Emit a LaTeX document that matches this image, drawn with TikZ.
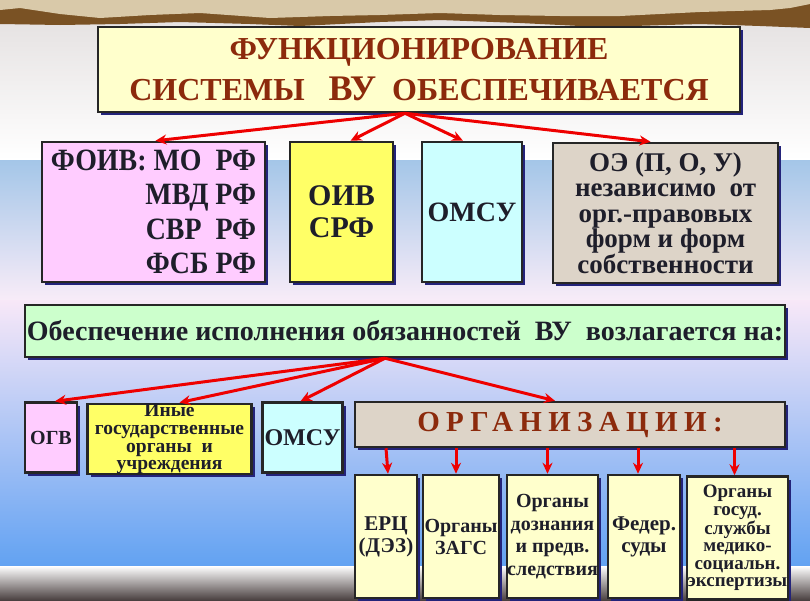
\documentclass[tikz,border=0pt]{standalone}
\usepackage{fontspec}
\setmainfont{Liberation Serif}
\newfontfamily\condserif[FakeStretch=0.9]{Liberation Serif}
\usetikzlibrary{arrows.meta, shadows}

\definecolor{paper}{HTML}{D9C9A9}
\definecolor{paperedge}{HTML}{7A5224}
\definecolor{boxline}{HTML}{262626}
\definecolor{boxshadow}{HTML}{23237A}
\definecolor{ink}{HTML}{1E1E2A}
\definecolor{titlered}{HTML}{8C2A0C}
\definecolor{arrowred}{HTML}{EE0000}
\definecolor{lightyellow}{HTML}{FFFFCC}
\definecolor{pinkbox}{HTML}{FFCCFF}
\definecolor{yellowbox}{HTML}{FFFF66}
\definecolor{cyanbox}{HTML}{CCFFFF}
\definecolor{sandbox}{HTML}{DDD4C8}
\definecolor{greenbox}{HTML}{CCFFCC}

\begin{document}
\begin{tikzpicture}[x=1pt, y=-1pt, >={Stealth[length=11pt,width=10pt]},
  box/.style={draw=boxline, line width=2.5pt, fill=#1, align=center, text=ink,
    inner sep=0pt, font=\bfseries,
    drop shadow={fill=boxshadow, opacity=1, shadow xshift=3pt, shadow yshift=-3pt}},
  arr/.style={->, draw=arrowred, line width=3pt}]
  \useasboundingbox (0,0) rectangle (810,600);
  % background
  \shade[top color={rgb,255:red,226;green,222;blue,222}, bottom color=white] (0,0) rectangle (810,160);
  \shade[top color={rgb,255:red,164;green,198;blue,232}, bottom color={rgb,255:red,248;green,236;blue,248}] (0,160) rectangle (810,300);
  \shade[top color={rgb,255:red,248;green,232;blue,248}, middle color={rgb,255:red,170;green,200;blue,244},
    bottom color={rgb,255:red,98;green,162;blue,242}] (0,300) rectangle (810,566);
  \shade[top color=white, bottom color={rgb,255:red,74;green,64;blue,64}] (0,566) rectangle (810,600);
  % torn paper strip
  \fill[paperedge] (0,0) -- (810,0) -- (810,28) -- (760,26) -- (700,24) -- (600,27) -- (520,23)
    -- (440,20) -- (380,22) -- (300,26) -- (250,24) -- (180,22) -- (120,24) -- (60,25) -- (0,24) -- cycle;
  \fill[paper] (0,0) -- (810,0) -- (810,4) -- (790,8) -- (770,10) -- (700,12) -- (620,16) -- (560,16)
    -- (500,15) -- (440,13) -- (380,15) -- (330,16) -- (270,18) -- (200,13) -- (150,15) -- (100,18)
    -- (60,14) -- (20,8) -- (0,10) -- cycle;

  % title
  \node[box=lightyellow, minimum width=642, minimum height=85, text=titlered,
    font=\bfseries\fontsize{32}{41}\selectfont] (title) at (419,69.5)
    {ФУНКЦИОНИРОВАНИЕ\\СИСТЕМЫ\ \ \ {\fontsize{36}{41}\selectfont ВУ}\ \ ОБЕСПЕЧИВАЕТСЯ};

  % first row
  \node[box=pinkbox, minimum width=223, minimum height=140, align=right,
    font=\condserif\bfseries\fontsize{31}{34.5}\selectfont] (foiv) at (153.5,212)
    {ФОИВ: МО\ \ РФ\\МВД РФ\\СВР\ \ РФ\\ФСБ РФ};
  \node[box=yellowbox, minimum width=103, minimum height=140,
    font=\bfseries\fontsize{30}{32}\selectfont] (oiv) at (341.5,212) {ОИВ\\СРФ};
  \node[box=cyanbox, minimum width=100, minimum height=140,
    font=\bfseries\fontsize{28}{32}\selectfont] (omsu) at (472,212) {ОМСУ};
  \node[box=sandbox, minimum width=225, minimum height=140,
    font=\bfseries\fontsize{27}{25.5}\selectfont] (oe) at (665.5,213)
    {ОЭ (П, О, У)\\независимо\ \ от\\орг.-правовых\\форм и форм\\собственности};

  \draw[arr] ([xshift=-14pt]title.south) -- ([xshift=2pt]foiv.north);
  \draw[arr] ([xshift=-14pt]title.south) -- ([xshift=9pt]oiv.north);
  \draw[arr] ([xshift=-14pt]title.south) -- ([xshift=-9pt]omsu.north);
  \draw[arr] ([xshift=-14pt]title.south) -- ([xshift=-15pt]oe.north);

  % duty bar
  \node[box=greenbox, minimum width=760, minimum height=52,
    font=\bfseries\fontsize{28}{32}\selectfont] (duty) at (405,331)
    {Обеспечение исполнения обязанностей\ \ ВУ\ \ возлагается на:};

  % second row
  \node[box=pinkbox, minimum width=52, minimum height=70,
    font=\bfseries\fontsize{20}{24}\selectfont] (ogv) at (51,437.5) {ОГВ};
  \node[box=yellowbox, minimum width=164, minimum height=70,
    font=\bfseries\fontsize{19.5}{17.8}\selectfont] (other) at (169.5,439)
    {Иные\\государственные\\органы\ \ и\\учреждения};
  \node[box=cyanbox, minimum width=80, minimum height=70,
    font=\bfseries\fontsize{24}{28}\selectfont] (omsub) at (302.5,437.5) {ОМСУ};
  \node[box=sandbox, minimum width=430, minimum height=45, text=titlered,
    font=\bfseries\fontsize{29}{30}\selectfont\addfontfeature{LetterSpace=22}] (org) at (570,424.5)
    {ОРГАНИЗАЦИИ:};

  \draw[arr] ([xshift=-20pt]duty.south) -- ([xshift=4pt]ogv.north);
  \draw[arr] ([xshift=-20pt]duty.south) -- ([xshift=10pt]other.north);
  \draw[arr] ([xshift=-20pt]duty.south) -- ([xshift=-2pt]omsub.north);
  \draw[arr] ([xshift=-20pt]duty.south) -- ([xshift=-15pt]org.north);

  % organisations
  \node[box=lightyellow, minimum width=62, minimum height=123,
    font=\bfseries\fontsize{21}{22}\selectfont] (erc) at (386,536.5) {ЕРЦ\\(ДЭЗ)};
  \node[box=lightyellow, minimum width=76, minimum height=123,
    font=\bfseries\fontsize{20}{22}\selectfont] (zags) at (461,536.5) {Органы\\ЗАГС};
  \node[box=lightyellow, minimum width=91, minimum height=123,
    font=\bfseries\fontsize{20}{22.5}\selectfont] (inq) at (552.5,536.5)
    {Органы\\дознания\\и предв.\\следствия};
  \node[box=lightyellow, minimum width=72, minimum height=123,
    font=\bfseries\fontsize{21}{22}\selectfont] (court) at (644,536.5) {Федер.\\суды};
  \node[box=lightyellow, minimum width=101, minimum height=123,
    font=\bfseries\fontsize{19}{17.6}\selectfont] (medic) at (737.5,538)
    {Органы\\госуд.\\службы\\медико-\\социальн.\\экспертизы};

  \draw[arr] (org.south -| erc.north) -- ([xshift=2pt]erc.north);
  \draw[arr] ([xshift=-5pt]org.south -| zags.north) -- ([xshift=-5pt]zags.north);
  \draw[arr] ([xshift=-5pt]org.south -| inq.north) -- ([xshift=-5pt]inq.north);
  \draw[arr] ([xshift=-6pt]org.south -| court.north) -- ([xshift=-6pt]court.north);
  \draw[arr] ([xshift=-3pt]org.south -| medic.north) -- ([xshift=-3pt]medic.north);
\end{tikzpicture}
\end{document}
